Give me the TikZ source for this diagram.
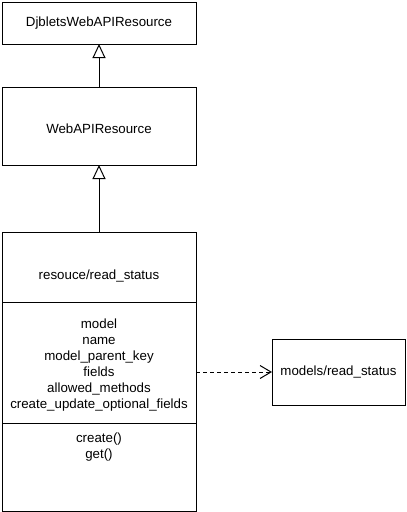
\documentclass[tikz,border=0pt]{standalone}
\usepackage{fontspec}
\setmainfont{Liberation Sans}
\usetikzlibrary{arrows.meta, positioning}

\begin{document}
\begin{tikzpicture}[x=1pt, y=1pt, node distance=40pt,
        cls/.style={rectangle, draw=black, line width=1pt, fill=white, minimum width=194pt, align=center, outer sep=0pt, inner sep=0pt, font=\fontsize{13.3}{16}\selectfont},
        members/.style={align=center, font=\fontsize{13.3}{16}\selectfont},
        inherit/.style={draw, line width=1pt, -{Triangle[open, length=14pt, width=13pt]}},
        depends/.style={draw, line width=1pt, dash pattern=on 4pt off 3pt, -{Straight Barb[length=11pt, width=13pt]}}]
        \useasboundingbox (0,0) rectangle (407,-512);

        \node [cls, minimum height=42pt] (djblets) at (99,-23) {DjbletsWebAPIResource};
        \node [cls, minimum height=78pt, text height=15pt, below=43pt of djblets] (webapi) {WebAPIResource};
        \node [cls, minimum height=70pt, text height=27pt, below=67pt of webapi] (head) {resouce/read\_status};
        \node [cls, minimum height=121pt, below=0pt of head] (attrs) {};
        \node [members, yshift=-3pt] (attrlist) at (attrs) {model\\name\\model\_parent\_key\\fields\\allowed\_methods\\create\_update\_optional\_fields};
        \node [cls, minimum height=88pt, below=0pt of attrs] (meths) {};
        \node [members, below=6pt of meths.north] (methlist) {create()\\get()};
        \node [cls, minimum width=133pt, minimum height=66pt, right=76pt of attrs, yshift=-9.5pt] (model) {models/read\_status};

        \path [inherit] (webapi) -- (djblets);
        \path [inherit] (head) -- (webapi);
        \path [depends] (attrs.east |- model.west) -- (model.west);
    \end{tikzpicture}
\end{document}
